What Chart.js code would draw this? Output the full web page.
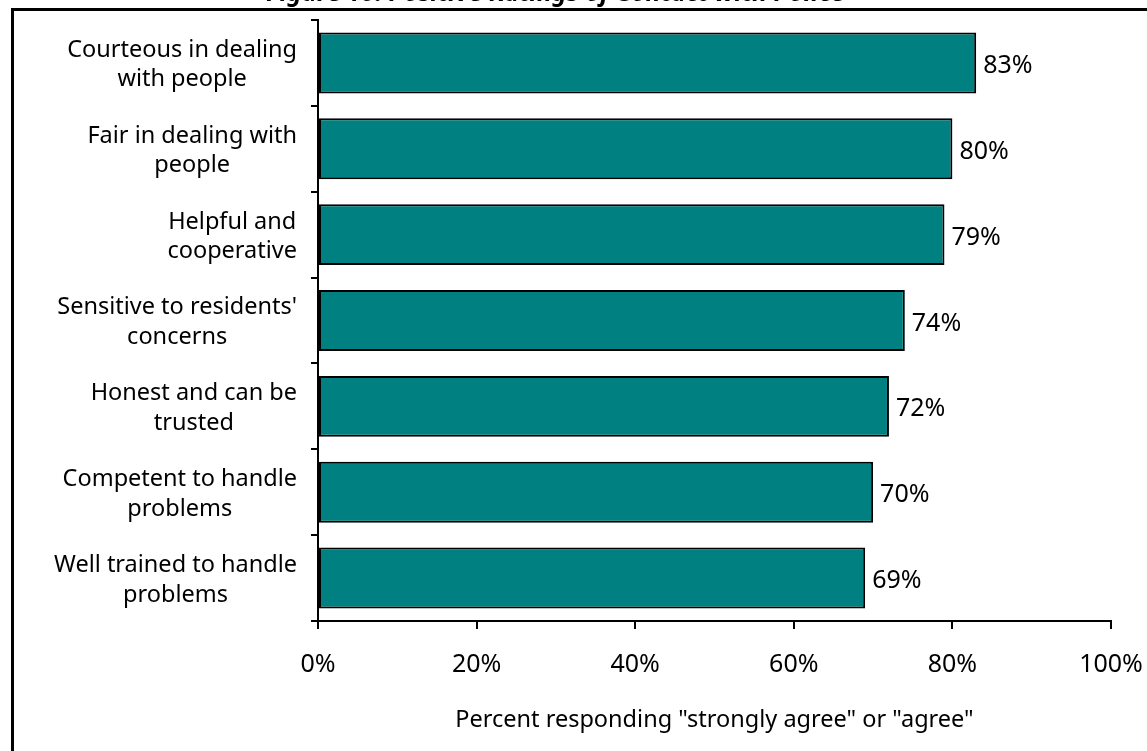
<!DOCTYPE html>
<html>
<head>
<meta charset="utf-8">
<script src="https://cdn.jsdelivr.net/npm/chart.js@4.4.1/dist/chart.umd.min.js"></script>
<style>
  html, body { margin: 0; padding: 0; background: #fff; overflow: hidden; width: 1147px; height: 751px; }
  #frame { position: absolute; left: 11px; top: 8px; width: 1300px; height: 900px; border: 3px solid #000; }
  #wrap { position: absolute; left: 0; top: -24px; width: 1280px; height: 775px; }
</style>
</head>
<body>
<div id="frame"></div>
<div id="wrap"><canvas id="policeChart"></canvas></div>
<script>
const categories = [
  ['Courteous in dealing', 'with people'],
  ['Fair in dealing with', 'people'],
  ['Helpful and', 'cooperative'],
  ["Sensitive to residents'", 'concerns'],
  ['Honest and can be', 'trusted'],
  ['Competent to handle', 'problems'],
  ['Well trained to handle', 'problems']
]
const percentAgree = [83, 80, 79, 74, 72, 70, 69]
const xTicks = [0, 20, 40, 60, 80, 100]

const FONT = '"Noto Sans", sans-serif'

// category labels: block right aligned against the axis, lines centred in the block
const catLabels = {
  id: 'catLabels',
  afterDraw(chart) {
    const ctx = chart.ctx
    const y = chart.scales.y
    ctx.save()
    ctx.font = '23.5px ' + FONT
    ctx.fillStyle = '#000'
    ctx.textBaseline = 'middle'
    ctx.textAlign = 'center'
    categories.forEach((lines, i) => {
      const w = Math.max(...lines.map(l => ctx.measureText(l).width))
      const cx = y.right - 21 - w / 2
      const cy = y.getPixelForValue(i) + 2
      const lh = 29.5
      lines.forEach((l, k) => {
        ctx.fillText(l, cx, cy + (k - (lines.length - 1) / 2) * lh)
      })
    })
    ctx.restore()
  }
}

const valueLabels = {
  id: 'valueLabels',
  afterDatasetsDraw(chart) {
    const ctx = chart.ctx
    const meta = chart.getDatasetMeta(0)
    ctx.save()
    ctx.font = '25px ' + FONT
    ctx.fillStyle = '#000'
    ctx.textBaseline = 'middle'
    ctx.textAlign = 'left'
    meta.data.forEach((bar, i) => {
      ctx.fillText(percentAgree[i] + '%', bar.x + 7, bar.y + 3)
    })
    ctx.restore()
  }
}

new Chart(document.getElementById('policeChart'), {
  type: 'bar',
  data: {
    labels: categories.map(c => c.join(' ')),
    datasets: [{
      data: percentAgree,
      backgroundColor: '#008080',
      borderColor: '#000',
      borderWidth: 2,
      borderSkipped: false,
      barPercentage: 0.71,
      categoryPercentage: 1
    }]
  },
  options: {
    indexAxis: 'y',
    responsive: true,
    maintainAspectRatio: false,
    animation: false,
    layout: { padding: { left: 0, right: 169, top: 0, bottom: 0 } },
    plugins: {
      legend: { display: false },
      tooltip: { enabled: false },
      title: {
        display: true,
        text: 'Figure 10: Positive Ratings of Contact with Police',
        color: '#000',
        font: { family: FONT, size: 25, weight: 'bold', style: 'italic' },
        padding: { top: 3, bottom: 11 }
      }
    },
    scales: {
      x: {
        min: 0,
        max: 100,
        afterBuildTicks(scale) { scale.ticks = xTicks.map(v => ({ value: v })) },
        afterFit(scale) { scale.height = 130 },
        border: { color: '#000', width: 2 },
        grid: { drawOnChartArea: false, color: '#000', lineWidth: 2, tickLength: 8 },
        ticks: {
          color: '#000',
          padding: 21,
          maxRotation: 0,
          font: { family: FONT, size: 25 },
          callback: v => v + '%'
        },
        title: {
          display: true,
          text: 'Percent responding "strongly agree" or "agree"',
          color: '#000',
          font: { family: FONT, size: 23.5 },
          padding: { top: 0, bottom: 17 }
        }
      },
      y: {
        afterFit(scale) { scale.width = 318 },
        border: { color: '#000', width: 2 },
        grid: { offset: true, drawOnChartArea: false, color: '#000', lineWidth: 2, tickLength: 7 },
        ticks: { display: false }
      }
    }
  },
  plugins: [catLabels, valueLabels]
})
</script>
</body>
</html>
